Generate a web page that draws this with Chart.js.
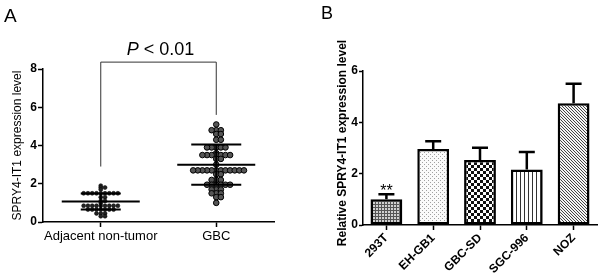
<!DOCTYPE html>
<html>
<head>
<meta charset="utf-8">
<script src="https://cdn.jsdelivr.net/npm/chart.js@4"></script>
<style>
  body { margin: 0; background: #fff; }
  #wrap { position: relative; width: 600px; height: 280px; }
  canvas { position: absolute; top: 0; }
</style>
</head>
<body>
<div id="wrap">
  <canvas id="chartA" width="300" height="280" style="left:0"></canvas>
  <canvas id="chartB" width="300" height="280" style="left:300px"></canvas>
</div>
<script>
// ---- panel A data ----
const groupsA = ["Adjacent non-tumor", "GBC"];
const adjacent = [1.9, 1.8, 1.8, 1.7,
  1.5, 1.5, 1.5, 1.5, 1.5, 1.5, 1.5, 1.5, 1.5,
  1.3, 1.3, 1.1, 1.1, 1.0,
  0.85, 0.85, 0.85, 0.85, 0.85, 0.85, 0.85, 0.85, 0.85,
  0.65, 0.65, 0.65, 0.65, 0.65, 0.65, 0.65,
  0.45, 0.45, 0.45, 0.3, 0.3];
const gbc = [5.1, 4.8, 4.8, 4.8, 4.6, 4.6, 4.3, 4.3,
  3.9, 3.9, 3.9, 3.9, 3.9, 3.6,
  3.5, 3.5, 3.5, 3.5, 3.5, 3.5, 3.5, 3.3, 3.3, 3.0,
  2.7, 2.7, 2.7, 2.7, 2.7, 2.7, 2.7, 2.7, 2.7, 2.7, 2.7, 2.7,
  2.5, 2.5, 2.2, 2.2, 2.2,
  1.95, 1.95, 1.95, 1.95, 1.95, 1.95, 1.7, 1.7, 1.7,
  1.5, 1.5, 1.5, 1.3, 1.3, 1.0];
const meansA = [1.07, 3.0];
const sdA = [0.42, 1.05];

// ---- panel B data ----
const cellLines = ["293T", "EH-GB1", "GBC-SD", "SGC-996", "NOZ"];
const relExpr = [1.0, 2.96, 2.53, 2.16, 4.74];
const relErr = [0.2, 0.3, 0.48, 0.68, 0.76];

const FONT = "'Liberation Sans', Arial, sans-serif";
Chart.defaults.font.family = FONT;
Chart.defaults.color = "#111";

// spread dots sideways in each 0.1 row (simple beeswarm)
function swarm(vals, gap) {
  const rows = {};
  return vals.map(v => {
    const k = v.toFixed(1);
    const i = rows[k] = (rows[k] === undefined ? 0 : rows[k] + 1);
    const off = i === 0 ? 0 : Math.ceil(i / 2) * (i % 2 ? 1 : -1);
    return off * gap;
  });
}

const offAdj = swarm(adjacent, 0.037);
const offGbc = swarm(gbc, 0.040);

const annotA = {
  id: "annotA",
  afterDatasetsDraw(chart) {
    const { ctx, scales: { x, y } } = chart;
    ctx.save();
    ctx.strokeStyle = "#000";
    // mean and SD lines
    [0, 1].forEach(i => {
      const cx = x.getPixelForValue(i);
      const ym = y.getPixelForValue(meansA[i]);
      const yh = y.getPixelForValue(meansA[i] + sdA[i]);
      const yl = y.getPixelForValue(meansA[i] - sdA[i]);
      ctx.lineWidth = 2;
      ctx.beginPath();
      ctx.moveTo(cx - 39, ym); ctx.lineTo(cx + 39, ym);
      const w = i === 0 ? 20 : 25;
      ctx.moveTo(cx - w, yh); ctx.lineTo(cx + w, yh);
      ctx.moveTo(cx - w, yl); ctx.lineTo(cx + w, yl);
      ctx.moveTo(cx, yh); ctx.lineTo(cx, yl);
      ctx.stroke();
    });
    // significance bracket
    const x0 = x.getPixelForValue(0), x1 = x.getPixelForValue(1);
    ctx.lineWidth = 1;
    ctx.strokeStyle = "#333";
    ctx.beginPath();
    ctx.moveTo(x0, y.getPixelForValue(2.9));
    ctx.lineTo(x0, y.getPixelForValue(8.36));
    ctx.lineTo(x1, y.getPixelForValue(8.36));
    ctx.lineTo(x1, y.getPixelForValue(5.6));
    ctx.stroke();
    // P < 0.01
    ctx.fillStyle = "#000";
    ctx.textBaseline = "alphabetic";
    ctx.font = "italic 18px " + FONT;
    const pW = ctx.measureText("P").width;
    ctx.font = "18px " + FONT;
    const restW = ctx.measureText(" < 0.01").width;
    let tx = (x0 + x1) / 2 + 2 - (pW + restW) / 2;
    ctx.font = "italic 18px " + FONT;
    ctx.fillText("P", tx, 55);
    ctx.font = "18px " + FONT;
    ctx.fillText(" < 0.01", tx + pW, 55);
    // panel letter
    ctx.font = "19px " + FONT;
    ctx.fillText("A", 4, 22);
    // y title
    ctx.translate(18, (chart.chartArea.top + chart.chartArea.bottom) / 2);
    ctx.rotate(-Math.PI / 2);
    ctx.textAlign = "center";
    ctx.textBaseline = "middle";
    ctx.font = "12px " + FONT;
    ctx.fillText("SPRY4-IT1 expression level", 0, 0);
    ctx.restore();
  }
};

new Chart(document.getElementById("chartA"), {
  type: "scatter",
  data: {
    datasets: [
      {
        data: adjacent.map((v, i) => ({ x: 0 + offAdj[i], y: v })),
        pointRadius: 2,
        pointBackgroundColor: "#222",
        pointBorderColor: "#000",
        pointBorderWidth: 0.5,
      },
      {
        data: gbc.map((v, i) => ({ x: 1 + offGbc[i], y: v })),
        pointRadius: 2.8,
        pointBackgroundColor: "#555",
        pointBorderColor: "#000",
        pointBorderWidth: 1,
      },
    ],
  },
  options: {
    responsive: false,
    animation: false,
    clip: false,
    layout: { padding: { top: 69, right: 26, left: 0, bottom: 0 } },
    plugins: { legend: { display: false }, tooltip: { enabled: false } },
    scales: {
      x: {
        type: "linear",
        min: -0.5,
        max: 1.5,
        afterBuildTicks: (s) => { s.ticks = [{ value: 0 }, { value: 1 }]; },
        afterFit: (s) => { s.height = 58; },
        grid: { drawOnChartArea: false, tickLength: 5, color: "#000", tickWidth: 1.5 },
        border: { color: "#000", width: 1.5 },
        ticks: {
          padding: 2,
          color: "#000",
          font: { size: 13 },
          callback: (v) => groupsA[v],
        },
      },
      y: {
        min: 0,
        max: 8,
        afterFit: (s) => { s.width = 43; },
        grid: { drawOnChartArea: false, tickLength: 5, color: "#000", tickWidth: 1.5 },
        border: { color: "#000", width: 1.5 },
        ticks: { stepSize: 2, padding: 1, color: "#000", font: { size: 12, weight: "bold" } },
      },
    },
  },
  plugins: [annotA],
});

// ---- fill patterns for panel B ----
function makePattern(size, draw) {
  const c = document.createElement("canvas");
  c.width = c.height = size;
  const g = c.getContext("2d");
  draw(g, size);
  return g.createPattern(c, "repeat");
}

const patterns = [
  makePattern(3, (g) => {
    g.fillStyle = "#555"; g.fillRect(0, 0, 3, 3);
    g.fillStyle = "#d0d0d0"; g.fillRect(1, 1, 2, 2);
  }),
  makePattern(4, (g) => {
    g.fillStyle = "#fafafa"; g.fillRect(0, 0, 4, 4);
    g.fillStyle = "#a0a0a0"; g.fillRect(0, 0, 1, 1); g.fillRect(2, 2, 1, 1);
  }),
  makePattern(6, (g) => {
    g.fillStyle = "#fff"; g.fillRect(0, 0, 6, 6);
    g.fillStyle = "#111"; g.fillRect(0, 0, 3, 3); g.fillRect(3, 3, 3, 3);
  }),
  makePattern(4, (g) => {
    g.fillStyle = "#fff"; g.fillRect(0, 0, 4, 4);
    g.fillStyle = "#333"; g.fillRect(0, 0, 1, 4);
  }),
  makePattern(3, (g) => {
    g.fillStyle = "#f4f4f4"; g.fillRect(0, 0, 3, 3);
    g.fillStyle = "#444";
    for (let i = 0; i < 3; i++) g.fillRect(i, i, 1, 1);
  }),
];

const annotB = {
  id: "annotB",
  afterDatasetsDraw(chart) {
    const { ctx, scales: { y } } = chart;
    const meta = chart.getDatasetMeta(0);
    ctx.save();
    ctx.strokeStyle = "#000";
    ctx.lineWidth = 2.5;
    meta.data.forEach((bar, i) => {
      const top = y.getPixelForValue(relExpr[i] + relErr[i]);
      ctx.beginPath();
      ctx.moveTo(bar.x, bar.y);
      ctx.lineTo(bar.x, top);
      ctx.moveTo(bar.x - 8, top);
      ctx.lineTo(bar.x + 8, top);
      ctx.stroke();
    });
    ctx.fillStyle = "#000";
    // significance mark on 293T
    const b0 = meta.data[0];
    ctx.textAlign = "center";
    ctx.textBaseline = "alphabetic";
    ctx.font = "16px " + FONT;
    ctx.fillText("**", b0.x, y.getPixelForValue(relExpr[0] + relErr[0]) + 2);
    // panel letter
    ctx.textAlign = "left";
    ctx.font = "18px " + FONT;
    ctx.fillText("B", 21, 19);
    // y title
    ctx.translate(43, 143);
    ctx.rotate(-Math.PI / 2);
    ctx.textAlign = "center";
    ctx.textBaseline = "middle";
    ctx.font = "bold 12px " + FONT;
    ctx.fillText("Relative SPRY4-IT1 expression level", 0, 0);
    ctx.restore();
  }
};

new Chart(document.getElementById("chartB"), {
  type: "bar",
  data: {
    labels: cellLines,
    datasets: [
      {
        data: relExpr,
        backgroundColor: patterns,
        borderColor: "#000",
        borderWidth: 2.5,
        borderSkipped: false,
        barPercentage: 0.68,
        categoryPercentage: 1,
      },
    ],
  },
  options: {
    responsive: false,
    animation: false,
    layout: { padding: { top: 71, right: 3, left: 0, bottom: 0 } },
    plugins: { legend: { display: false }, tooltip: { enabled: false } },
    scales: {
      x: {
        afterFit: (s) => { s.height = 55; },
        grid: { drawOnChartArea: false, offset: false, tickLength: 5, color: "#000", tickWidth: 1.5 },
        border: { color: "#000", width: 1.5 },
        ticks: {
          minRotation: 45,
          maxRotation: 45,
          padding: 1,
          color: "#000",
          font: { size: 12, weight: "bold" },
        },
      },
      y: {
        min: 0,
        max: 6,
        afterFit: (s) => { s.width = 63; },
        grid: { drawOnChartArea: false, tickLength: 4, color: "#000", tickWidth: 1.5 },
        border: { color: "#000", width: 1.5 },
        ticks: { stepSize: 2, padding: 1, color: "#000", font: { size: 12, weight: "bold" } },
      },
    },
  },
  plugins: [annotB],
});
</script>
</body>
</html>
